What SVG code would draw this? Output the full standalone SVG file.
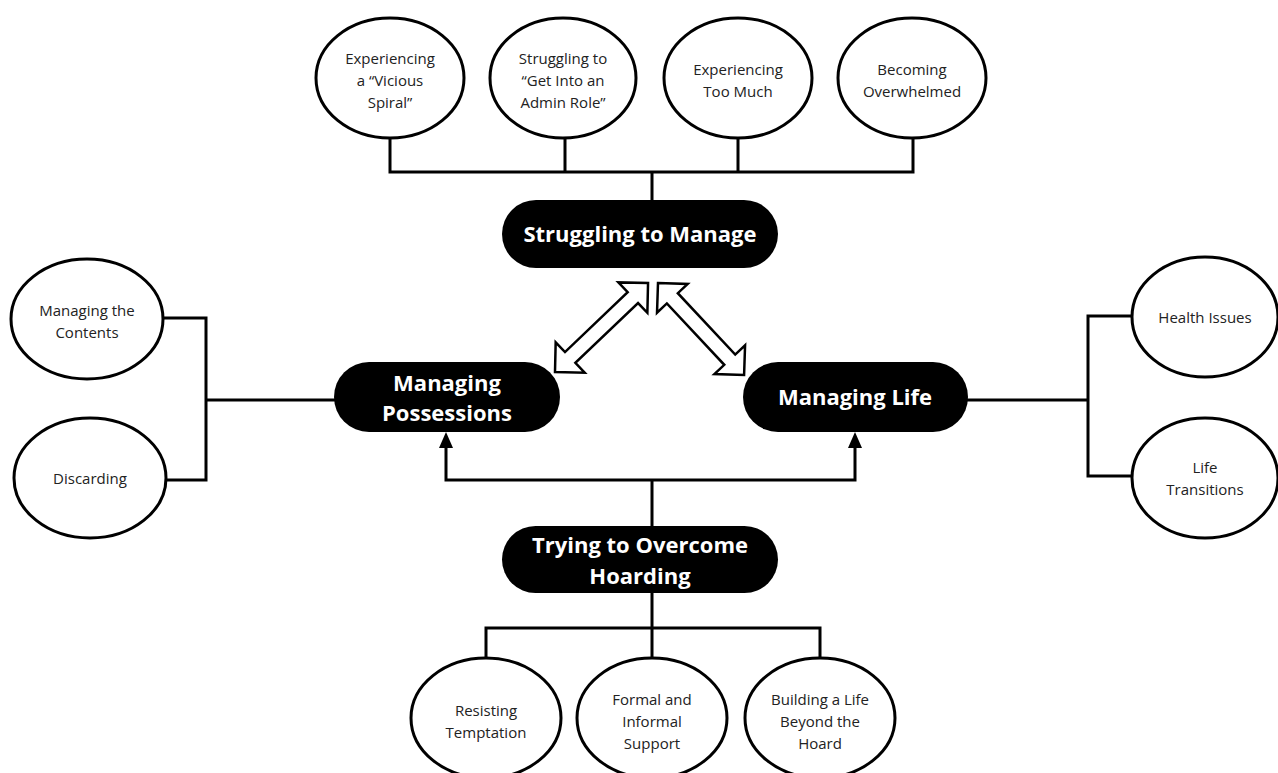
<svg xmlns="http://www.w3.org/2000/svg" width="1278" height="773" viewBox="0 0 1278 773">
<defs>
<style>
.el{fill:#fff;stroke:#000;stroke-width:3}
.pill{fill:#000}
.lbl{font-family:"Open Sans","DejaVu Sans",sans-serif;font-size:15px;fill:#222;text-anchor:middle}
.ptx{font-family:"Open Sans","DejaVu Sans",sans-serif;font-size:22px;font-weight:bold;fill:#fff;text-anchor:middle}
.ln{fill:none;stroke:#000;stroke-width:3}
.dbl{fill:#fff;stroke:#000;stroke-width:2.5;stroke-linejoin:miter}
</style>
</defs>
<rect width="1278" height="773" fill="#fff"/>

<g id="connectors">
<path class="ln" d="M390,138 V172 M565,138 V172 M738,138 V172 M913,138 V172 M388.5,172 H914.5 M652,172 V202"/>
<path class="ln" d="M163,318 H206 M165,480 H206 M206,316.5 V481.5 M206,400 H336"/>
<path class="ln" d="M966,400 H1088 M1088,316 H1133 M1088,476 H1133 M1088,314.5 V477.5"/>
<path class="ln" d="M652,528 V480 M446,480 H855 M446,481.5 V446 M855,481.5 V446"/>
<path d="M446,432 L439,448 L453,448 Z M855,432 L848,448 L862,448 Z" fill="#000"/>
<path class="ln" d="M652,592 V628 M486,628 H820 M486,626.5 V658 M652,628 V658 M820,626.5 V658"/>
<polygon class="dbl" transform="translate(555,372) rotate(-43.7)" points="0,0 21,-21 21,-7.5 107.7,-7.5 107.7,-21 128.7,0 107.7,21 107.7,7.5 21,7.5 21,21"/>
<polygon class="dbl" transform="translate(658,283) rotate(46.9)" points="0,0 21,-21 21,-7.5 105,-7.5 105,-21 126,0 105,21 105,7.5 21,7.5 21,21"/>
</g>

<g id="n-vicious"><ellipse class="el" cx="390" cy="78" rx="74" ry="60"/>
<text class="lbl"><tspan x="390" y="64">Experiencing</tspan><tspan x="390" y="86">a “Vicious</tspan><tspan x="390" y="108">Spiral”</tspan></text></g>
<g id="n-admin"><ellipse class="el" cx="563" cy="78" rx="73" ry="60"/>
<text class="lbl"><tspan x="563" y="64">Struggling to</tspan><tspan x="563" y="86">“Get Into an</tspan><tspan x="563" y="108">Admin Role”</tspan></text></g>
<g id="n-toomuch"><ellipse class="el" cx="738" cy="78" rx="74" ry="60"/>
<text class="lbl"><tspan x="738" y="75">Experiencing</tspan><tspan x="738" y="97">Too Much</tspan></text></g>
<g id="n-overwhelmed"><ellipse class="el" cx="912" cy="78" rx="74" ry="60"/>
<text class="lbl"><tspan x="912" y="75">Becoming</tspan><tspan x="912" y="97">Overwhelmed</tspan></text></g>

<g id="n-struggling"><rect class="pill" x="502" y="200" width="276" height="68" rx="34"/>
<text class="ptx" x="640" y="242">Struggling to Manage</text></g>

<g id="n-possessions"><rect class="pill" x="334" y="362" width="226" height="70" rx="35"/>
<text class="ptx"><tspan x="447" y="391">Managing</tspan><tspan x="447" y="421">Possessions</tspan></text></g>

<g id="n-life"><rect class="pill" x="743" y="362" width="225" height="70" rx="35"/>
<text class="ptx" x="855" y="405">Managing Life</text></g>

<g id="n-overcome"><rect class="pill" x="502" y="526" width="276" height="67" rx="33.5"/>
<text class="ptx"><tspan x="640" y="553">Trying to Overcome</tspan><tspan x="640" y="584">Hoarding</tspan></text></g>

<g id="n-contents"><ellipse class="el" cx="87" cy="319" rx="76" ry="60"/>
<text class="lbl"><tspan x="87" y="316">Managing the</tspan><tspan x="87" y="338">Contents</tspan></text></g>
<g id="n-discarding"><ellipse class="el" cx="90" cy="478" rx="76" ry="60"/>
<text class="lbl" x="90" y="484">Discarding</text></g>

<g id="n-health"><ellipse class="el" cx="1205" cy="317" rx="73" ry="60"/>
<text class="lbl" x="1205" y="323">Health Issues</text></g>
<g id="n-transitions"><ellipse class="el" cx="1205" cy="478" rx="73" ry="60"/>
<text class="lbl"><tspan x="1205" y="473">Life</tspan><tspan x="1205" y="495">Transitions</tspan></text></g>

<g id="n-resisting"><ellipse class="el" cx="486" cy="718" rx="75" ry="60"/>
<text class="lbl"><tspan x="486" y="716">Resisting</tspan><tspan x="486" y="738">Temptation</tspan></text></g>
<g id="n-support"><ellipse class="el" cx="652" cy="718" rx="75" ry="60"/>
<text class="lbl"><tspan x="652" y="705">Formal and</tspan><tspan x="652" y="727">Informal</tspan><tspan x="652" y="749">Support</tspan></text></g>
<g id="n-beyond"><ellipse class="el" cx="820" cy="718" rx="75" ry="60"/>
<text class="lbl"><tspan x="820" y="705">Building a Life</tspan><tspan x="820" y="727">Beyond the</tspan><tspan x="820" y="749">Hoard</tspan></text></g>
</svg>
